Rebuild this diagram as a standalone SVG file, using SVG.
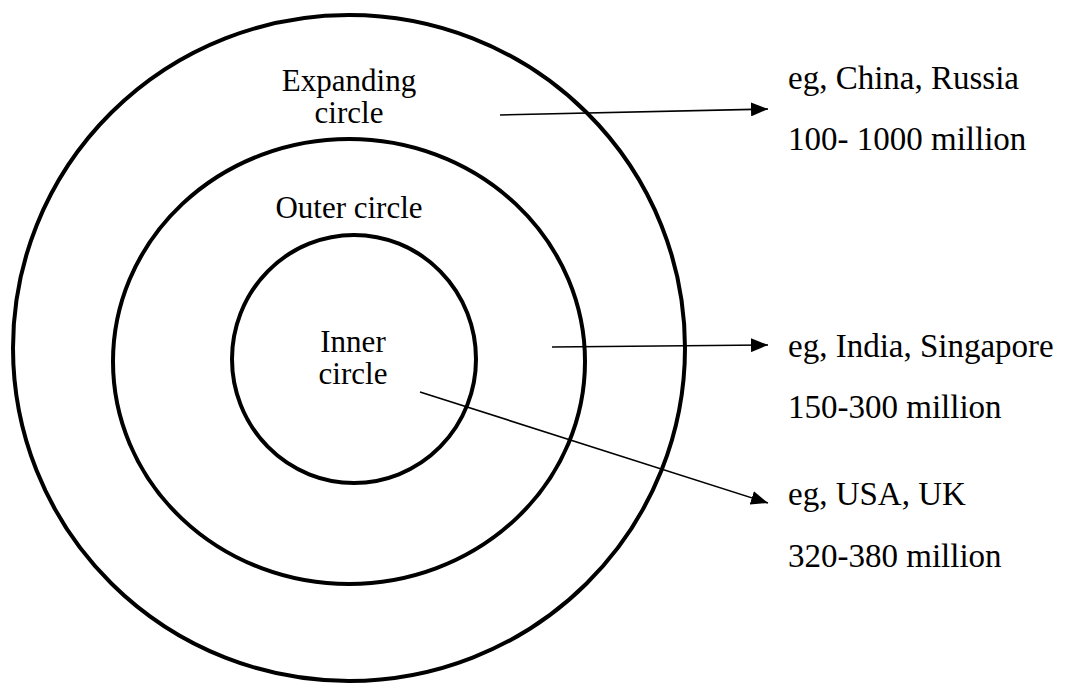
<svg xmlns="http://www.w3.org/2000/svg" width="1072" height="684" viewBox="0 0 1072 684">
<defs>
<style>
.ring{fill:none;stroke:#000;stroke-width:4}
.conn{stroke:#000;stroke-width:1.6;fill:none;marker-end:url(#ah)}
text{font-family:"Liberation Serif",Tinos,"Times New Roman",Times,"Nimbus Roman","Nimbus Roman No9 L",FreeSerif,"Noto Serif","DejaVu Serif",serif;fill:#000}
</style>
<marker id="ah" markerUnits="userSpaceOnUse" markerWidth="18" markerHeight="14" refX="17" refY="7" orient="auto">
<path d="M0,0 L17,7 L0,14 Z" fill="#000"/>
</marker>
</defs>
<rect width="1072" height="684" fill="#fff"/>
<g id="expanding-circle" font-size="31">
<ellipse class="ring" cx="349" cy="348" rx="336" ry="333"/>
<text x="349" y="91" text-anchor="middle">Expanding</text>
<text x="349" y="123" text-anchor="middle">circle</text>
</g>
<g id="outer-circle" font-size="31">
<ellipse class="ring" cx="349" cy="361.5" rx="236" ry="222.5"/>
<text x="349" y="218" text-anchor="middle">Outer circle</text>
</g>
<g id="inner-circle" font-size="31">
<ellipse class="ring" cx="354" cy="359" rx="122" ry="124"/>
<text x="353" y="352" text-anchor="middle">Inner</text>
<text x="353" y="384" text-anchor="middle">circle</text>
</g>
<g id="connectors">
<line class="conn" x1="500" y1="115" x2="768" y2="109"/>
<line class="conn" x1="552" y1="347" x2="768" y2="345"/>
<line class="conn" x1="420" y1="392" x2="768" y2="503"/>
</g>
<g id="label-expanding" font-size="33">
<text x="788" y="89">eg, China, Russia</text>
<text x="788" y="150">100- 1000 million</text>
</g>
<g id="label-outer" font-size="33">
<text x="788" y="357">eg, India, Singapore</text>
<text x="788" y="418">150-300 million</text>
</g>
<g id="label-inner" font-size="33">
<text x="788" y="505">eg, USA, UK</text>
<text x="788" y="567">320-380 million</text>
</g>
</svg>
